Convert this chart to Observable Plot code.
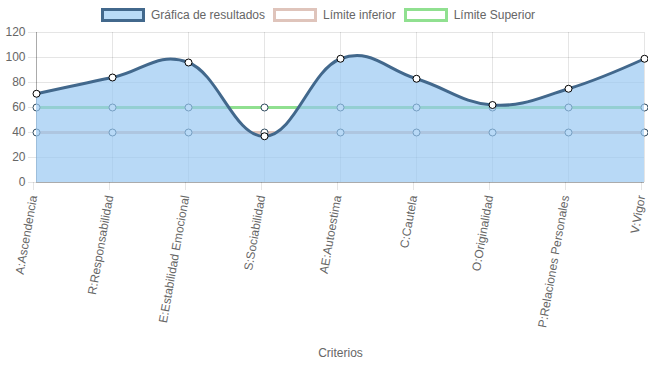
<!DOCTYPE html>
<html>
<head>
<meta charset="utf-8">
<script src="https://cdn.jsdelivr.net/npm/d3@7"></script>
<script src="https://cdn.jsdelivr.net/npm/@observablehq/plot@0.6"></script>
<style>
  body { margin: 0; background: #fff; font-family: "Liberation Sans", Arial, Helvetica, sans-serif; }
  #legend { height: 26px; display: flex; justify-content: center; align-items: center; font-size: 12px; color: #666; padding-top: 4px; padding-right: 12px; box-sizing: border-box; }
  .item { display: flex; align-items: center; margin: 0 4px; }
  .box { width: 38px; height: 8px; border-width: 3px; border-style: solid; margin-right: 6px; }
  svg { overflow: visible; }
</style>
</head>
<body>
<div id="legend"></div>
<div id="chart"></div>
<script>
const categories = ["A:Ascendencia","R:Responsabilidad","E:Estabilidad Emocional","S:Sociabilidad","AE:Autoestima","C:Cautela","O:Originalidad","P:Relaciones Personales","V:Vigor"];
const resultados = [71, 84, 96, 37, 99, 83, 62, 75, 99];
const limiteInferior = [40, 40, 40, 40, 40, 40, 40, 40, 40];
const limiteSuperior = [60, 60, 60, 60, 60, 60, 60, 60, 60];
const yTicks = [0, 20, 40, 60, 80, 100, 120];
const seriesNames = ["Gráfica de resultados", "Límite inferior", "Límite Superior"];

const colors = {
  resLine: "#42688c",
  resFill: "#97c7f2",
  inf: "#dfc4bb",
  sup: "#90e090"
};

// legend
const legend = document.getElementById("legend");
const legendStyles = [
  {border: colors.resLine, bg: "#b9dbf7"},
  {border: colors.inf, bg: "#fff"},
  {border: colors.sup, bg: "#fff"}
];
seriesNames.forEach((n, i) => {
  const it = document.createElement("div");
  it.className = "item";
  const b = document.createElement("span");
  b.className = "box";
  b.style.borderColor = legendStyles[i].border;
  b.style.background = legendStyles[i].bg;
  it.appendChild(b);
  const t = document.createElement("span");
  t.textContent = n;
  it.appendChild(t);
  legend.appendChild(it);
});

const res = categories.map((c, i) => ({c, v: resultados[i]}));
const inf = categories.map((c, i) => ({c, v: limiteInferior[i]}));
const sup = categories.map((c, i) => ({c, v: limiteSuperior[i]}));

const curveOpts = {curve: "cardinal", tension: -0.2};

const chart = Plot.plot({
  width: 648,
  height: 339,
  marginTop: 6,
  marginLeft: 36,
  marginRight: 4,
  marginBottom: 183,
  style: {fontFamily: "Liberation Sans, Arial, Helvetica, sans-serif", fontSize: "12px", color: "#666", overflow: "visible"},
  x: {type: "point", domain: categories, padding: 0},
  y: {domain: [0, 120]},
  marks: [
    Plot.gridY(yTicks, {stroke: "#000", strokeOpacity: 0.1}),
    Plot.gridX(categories, {stroke: "#000", strokeOpacity: 0.1}),
    Plot.ruleY([0], {stroke: "#000", strokeOpacity: 0.25}),
    Plot.ruleX([categories[0]], {stroke: "#000", strokeOpacity: 0.25}),
    Plot.axisY(yTicks, {tickSize: 8, tickPadding: 3, stroke: "#000", strokeOpacity: 0.1, fill: "#666", label: null, fontSize: 12}),
    Plot.axisX(categories, {tickSize: 8, tickPadding: 5, tickRotate: -80, dx: -3, stroke: "#000", strokeOpacity: 0.1, fill: "#666", label: null, fontSize: 12}),
    Plot.lineY(sup, {x: "c", y: "v", stroke: colors.sup, strokeWidth: 3}),
    Plot.lineY(inf, {x: "c", y: "v", stroke: colors.inf, strokeWidth: 3}),
    Plot.dot(sup, {x: "c", y: "v", r: 3.5, fill: "#fff", stroke: "#2f4a5e", strokeWidth: 1}),
    Plot.dot(inf, {x: "c", y: "v", r: 3.5, fill: "#fff", stroke: "#2f4a5e", strokeWidth: 1}),
    Plot.areaY(res, {x: "c", y: "v", fill: colors.resFill, fillOpacity: 0.68, ...curveOpts}),
    Plot.lineY(res, {x: "c", y: "v", stroke: colors.resLine, strokeWidth: 3, ...curveOpts}),
    Plot.dot(res, {x: "c", y: "v", r: 3.5, fill: "#fff", stroke: "#000", strokeWidth: 1}),
    Plot.text(["Criterios"], {frameAnchor: "bottom", dy: 174, fill: "#666", fontSize: 12})
  ]
});
document.getElementById("chart").appendChild(chart);
</script>
</body>
</html>
